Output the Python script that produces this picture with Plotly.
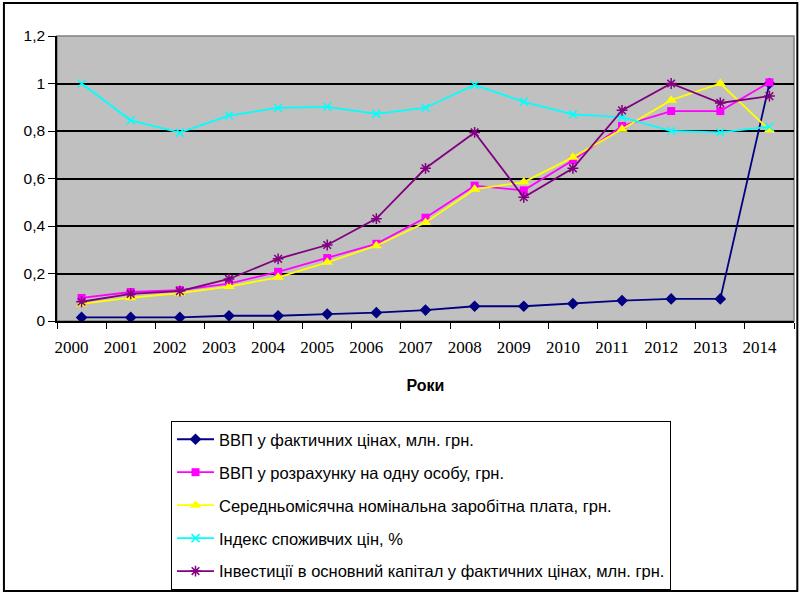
import plotly.graph_objects as go

years = [str(y) for y in range(2000, 2015)]
gdp = [0.015, 0.015, 0.015, 0.022, 0.022, 0.029, 0.035, 0.046, 0.062, 0.062, 0.073, 0.086, 0.093, 0.093, 1.0]
gdp_pc = [0.097, 0.122, 0.13, 0.157, 0.207, 0.265, 0.325, 0.435, 0.57, 0.55, 0.677, 0.821, 0.884, 0.884, 1.005]
wage = [0.072, 0.098, 0.117, 0.145, 0.184, 0.247, 0.317, 0.415, 0.555, 0.585, 0.689, 0.807, 0.93, 1.0, 0.804]
cpi = [1.0, 0.845, 0.793, 0.865, 0.897, 0.902, 0.872, 0.898, 0.994, 0.923, 0.870, 0.858, 0.80, 0.794, 0.818]
invest = [0.081, 0.114, 0.126, 0.177, 0.262, 0.32, 0.431, 0.643, 0.794, 0.521, 0.643, 0.887, 1.0, 0.918, 0.947]

names = [
    "ВВП у фактичних цінах, млн. грн.",
    "ВВП у розрахунку на одну особу, грн.",
    "Середньомісячна номінальна заробітна плата, грн.",
    "Індекс споживчих цін, %",
    "Інвестиції в основний капітал у фактичних цінах, млн. грн.",
]
y_ticks = [0, 0.2, 0.4, 0.6, 0.8, 1.0, 1.2]

series = [
    (gdp, "#000080", dict(symbol="diamond", size=9, color="#000080")),
    (gdp_pc, "#FF00FF", dict(symbol="square", size=8, color="#FF00FF")),
    (wage, "#FFFF00", dict(symbol="triangle-up", size=10, color="#FFFF00")),
    (cpi, "#00FFFF", dict(symbol="x-thin-open", size=8, color="#00FFFF", line=dict(color="#00FFFF", width=1.5))),
    (invest, "#800080", dict(symbol="asterisk-open", size=9, color="#800080", line=dict(color="#800080", width=1.5))),
]

fig = go.Figure()
for i, (vals, col, mk) in enumerate(series):
    fig.add_trace(go.Scatter(
        x=years, y=vals, name=names[i], mode="lines+markers",
        line=dict(color=col, width=1.8), marker=mk, legendgroup=f"g{i}",
    ))

fig.update_layout(
    width=800, height=593,
    margin=dict(l=57, r=6, t=36, b=272, autoexpand=False),
    paper_bgcolor="white", plot_bgcolor="#C0C0C0",
    separators=", ",
    showlegend=True,
    legend=dict(
        x=0.1547, y=-0.351, xanchor="left", yanchor="top",
        bgcolor="white", bordercolor="black", borderwidth=1,
        font=dict(family="Liberation Sans, Arial", size=16.5, color="black"),
        tracegroupgap=8.5, itemwidth=37,
    ),
    xaxis=dict(
        type="category", showgrid=False, showline=True, linecolor="black", linewidth=1.5,
        ticks="outside", tickson="boundaries", ticklen=6, tickcolor="black",
        ticklabelshift=-10, ticklabelstandoff=10,
        tickfont=dict(family="Liberation Serif, Times New Roman", size=17, color="black"),
        title=dict(text="<b>Роки</b>", font=dict(family="Liberation Sans, Arial", size=16, color="black"), standoff=24),
        range=[-0.5, 14.5], automargin=False,
    ),
    yaxis=dict(
        range=[0, 1.2], tickvals=y_ticks, showgrid=True, gridcolor="black", gridwidth=1.5,
        showline=True, linecolor="black", linewidth=1.5, ticks="outside", ticklen=7, tickcolor="black",
        tickfont=dict(family="Liberation Sans, Arial", size=15.5, color="black"), zeroline=False,
        automargin=False,
    ),
    shapes=[
        dict(type="rect", xref="paper", yref="paper", x0=0, x1=1, y0=0, y1=1,
             line=dict(color="#808080", width=1.5), layer="below"),
        dict(type="rect", xref="paper", yref="paper", x0=-0.072, x1=1.0045, y0=-0.947, y1=1.116,
             line=dict(color="black", width=2)),
    ],
)

fig.write_html("out.html", config={"displayModeBar": False},
               post_script="document.body.style.margin='0';document.body.style.overflow='hidden';")
